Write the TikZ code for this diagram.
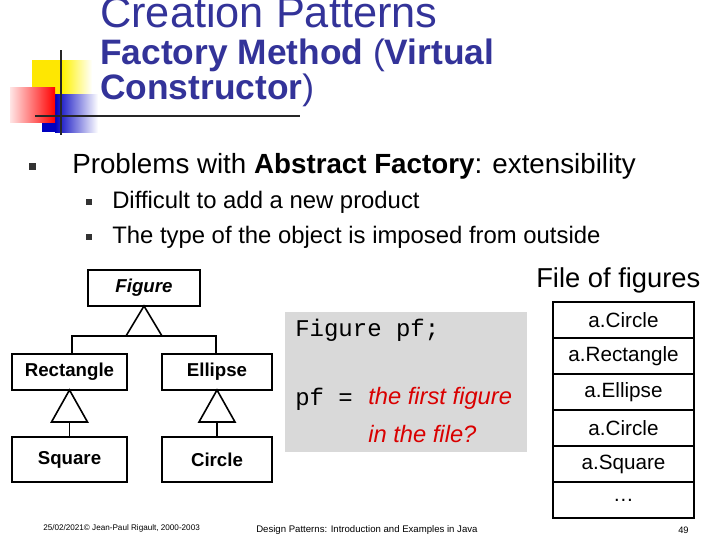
\documentclass[tikz,border=0pt]{standalone}
\usepackage{fontspec}
\setmainfont{Liberation Sans}
\setmonofont{Liberation Mono}
\begin{document}
\begin{tikzpicture}[x=0.75pt,y=-0.75pt,
  cls/.style={draw,line width=1.5pt,anchor=north west,inner sep=0pt,outer sep=0pt,font=\fontsize{14}{16}\selectfont\bfseries},
  inh/.style={draw,line width=1.2pt,fill=white},
  lnk/.style={line width=1.2pt},
  cell/.style={draw,line width=1.5pt,minimum width=141*0.75pt,minimum height=36*0.75pt,inner sep=0pt,outer sep=0pt,anchor=north,font=\fontsize{15.5}{17}\selectfont},
  tt/.style={text=black,anchor=west,inner sep=0pt}]
\useasboundingbox (0,0) rectangle (720,540);
\definecolor{ttl}{HTML}{333399}
% logo
\fill[yellow!90!orange] (32,60) rectangle (80,106);
\shade[left color=yellow!90!orange,right color=white] (62,60) rectangle (92,106);
\fill[blue!75!black] (42,94) rectangle (62,132);
\shade[left color=blue!75!black,right color=white] (55,94) rectangle (98,132);
\shade[left color=red!10,right color=red] (10,87) rectangle (55,122);
\draw[line width=2pt,black!85] (61,50) -- (61,135);
\draw[line width=2pt,black!85] (35,116) -- (300,116);
% titles
\node[tt,text=ttl,font=\fontsize{32.5}{34}\selectfont] (t0) at (100,12) {Creation Patterns};
\node[tt,text=ttl,font=\fontsize{26.5}{28}\selectfont] (t1) at (100,55) {\textbf{Factory Method} (\textbf{Virtual}};
\node[tt,text=ttl,font=\fontsize{26.5}{28}\selectfont] (t2) at (100,90) {\textbf{Constructor})};
% bullets
\fill[black!80] (29,163) rectangle (36,170);
\node[tt,font=\fontsize{20.8}{22}\selectfont] (b1) at (72,166) {Problems with \textbf{Abstract Factory}: extensibility};
\fill[black!80] (86,199) rectangle (92,205);
\fill[black!80] (86,234) rectangle (92,240);
\node[tt,font=\fontsize{17.9}{19}\selectfont] (b2) at (112,202) {Difficult to add a new product};
\node[tt,font=\fontsize{17.9}{19}\selectfont] (b3) at (112,237) {The type of the object is imposed from outside};
% class diagram
\node[cls,minimum width=112*0.75pt,minimum height=36*0.75pt] (fig) at (88,270) {\textit{Figure}};
\node[cls,minimum width=115*0.75pt,minimum height=36*0.75pt] (rect) at (12,354) {Rectangle};
\node[cls,minimum width=110*0.75pt,minimum height=36*0.75pt] (ell) at (162,354) {Ellipse};
\node[cls,minimum width=115*0.75pt,minimum height=45*0.75pt] (sq) at (12,437) {Square};
\node[cls,minimum width=110*0.75pt,minimum height=45*0.75pt] (cir) at (162,437) {Circle};
\coordinate (j1) at (72,336); \coordinate (j2) at (216,336);
\draw[lnk] (rect.north -| j1) -- (j1) -- (j2) -- (ell.north -| j2);
\draw[inh] (fig.south) -- (162,336) -- (126,336) -- cycle;
\draw[lnk] (sq.north) -- (69.5,422);
\draw[inh] (rect.south) -- (87.5,422) -- (51.5,422) -- cycle;
\draw[lnk] (cir.north) -- (217,422);
\draw[inh] (ell.south) -- (235,422) -- (199,422) -- cycle;
% code box
\fill[black!15] (285,312) rectangle (527,452);
\node[tt,font=\ttfamily\fontsize{18}{20}\selectfont] (c1) at (295,330) {Figure pf;};
\node[tt,font=\ttfamily\fontsize{18}{20}\selectfont] (c2) at (295,399) {pf =};
\node[tt,text=red!85!black,font=\fontsize{17.8}{19}\selectfont\itshape] (c4) at (368,398) {the first figure};
\node[tt,text=red!85!black,font=\fontsize{17.8}{19}\selectfont\itshape] (c3) at (368,434) {in the file?};
% file list
\node[tt,font=\fontsize{20.5}{22}\selectfont] (fl) at (536,280) {File of figures};
\node[cell] (f1) at (623.5,302) {a.Circle};
\node[cell] (f2) at (f1.south) {a.Rectangle};
\node[cell] (f3) at (f2.south) {a.Ellipse};
\node[cell] (f4) at (f3.south) {a.Circle};
\node[cell] (f5) at (f4.south) {a.Square};
\node[cell] (f6) at (f5.south) {\dots};
% footer
\node[tt,font=\fontsize{6.1}{7}\selectfont] (ft1) at (43,528) {25/02/2021© Jean-Paul Rigault, 2000-2003};
\node[tt,font=\fontsize{7.2}{8}\selectfont] (ft2) at (256,530) {Design Patterns: Introduction and Examples in Java};
\node[tt,font=\fontsize{7}{8}\selectfont] (ft3) at (678,530) {49};
\end{tikzpicture}
\end{document}
